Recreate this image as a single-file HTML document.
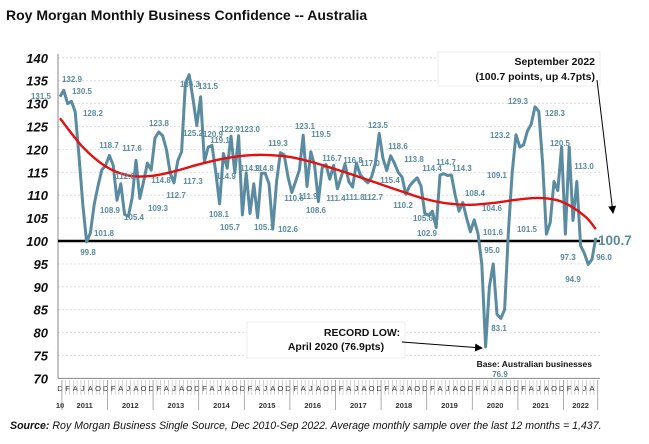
<!DOCTYPE html>
<html><head><meta charset="utf-8">
<style>
html,body{margin:0;padding:0;background:#fff;}
body{width:649px;height:444px;overflow:hidden;font-family:"Liberation Sans",sans-serif;position:relative;}
#title{position:absolute;left:6px;top:7px;font-size:14px;font-weight:bold;color:#111;}
#source{position:absolute;left:10px;top:420px;font-size:10.6px;font-style:italic;color:#111;white-space:nowrap;}
svg{position:absolute;left:0;top:0;}
</style></head>
<body>
<div id="title">Roy Morgan Monthly Business Confidence -- Australia</div>
<svg id="chart" width="649" height="444"></svg>
<div id="source"><b>Source:</b> Roy Morgan Business Single Source, Dec 2010-Sep 2022. Average monthly sample over the last 12 months = 1,437.</div>
<script>
const values = [131.5,132.9,130.0,130.5,128.2,118.5,108,99.8,101.8,108,112,115.5,116.5,118.7,116.5,108.9,112.5,105.8,105.4,109.5,117.6,109.3,113,117,115.5,122.5,123.8,123,120,114.8,112.7,117.5,119.5,134.5,136.3,131,125.2,131.5,117.3,120.5,120.9,115,108.1,119.1,115.9,122.9,114.9,123.0,105.7,114.9,106,112.5,105.1,114.8,114.8,112.5,102.6,113,119.3,118.8,114,110.6,113,115.5,123.1,111.9,119.5,116.5,108.6,116,116.7,113.5,116.5,111.4,114,116.8,113,111.8,117.0,114.5,113.5,112.7,114,117,123.5,118,115.4,118.6,117,115,114,110.2,112,113,113.8,112,106,105.6,106.5,102.9,114.4,114.7,114.3,114.4,110,106.5,108.4,105,102,104.6,101.6,95.0,76.9,90,95,84,83.1,85,102,115,123.2,120.5,121,124,125.5,129.3,128.3,117,101.5,104,113,111,120.5,101.5,120.5,104.5,113.0,99,97.3,94.9,96.0,100.7];
const trendIdx = [0,6,12,18,24,30,36,42,48,54,60,66,72,78,84,90,96,102,108,114,120,126,132,138,141];
const trendVals = [126.8,120.5,116.3,114.3,114.2,115.2,116.6,117.8,118.6,118.8,118.4,117.3,115.8,114.2,112.5,110.8,109.2,108.2,107.9,108.3,109.0,109.4,108.6,105.5,102.6];
const yTicks = [70,75,80,85,90,95,100,105,110,115,120,125,130,135,140];
const monthLetters = ["D","F","A","J","A","O"];
const years = ["10","2011","2012","2013","2014","2015","2016","2017","2018","2019","2020","2021","2022"];
const pointLabels = [["131.5",41,96],["132.9",72,79],["130.5",82,91],["128.2",93,113],["99.8",88,252],["101.8",104,233],["118.7",109,145],["108.9",110,210],["117.6",132,148],["112.0",125,176],["105.4",134,217],["109.3",158,208],["123.8",159,123],["114.8",161,180],["112.7",176,195],["136.3",190,84],["131.5",208,86],["125.2",193,133],["117.3",193,181],["120.9",213,134],["119.1",220,140],["114.9",226,176],["108.1",219,214],["122.9",230,129],["123.0",250,129],["105.7",230,227],["114.9",250,168],["114.8",264,168],["105.1",264,227],["119.3",278,143],["102.6",288,229],["110.6",294,198],["123.1",305,126],["111.9",308,196],["119.5",321,134],["108.6",316,210],["116.7",332,158],["111.4",336,198],["116.8",353,160],["111.8",355,197],["117.0",370,163],["112.7",373,197],["123.5",378,125],["118.6",398,146],["115.4",390,180],["113.8",414,159],["110.2",403,205],["105.6",423,218],["102.9",427,233],["114.4",432,168],["114.7",446,162],["114.3",462,168],["108.4",475,193],["104.6",492,208],["101.6",493,232],["95.0",492,250],["109.1",497,175],["123.2",500,135],["129.3",518,101],["128.3",555,113],["120.5",560,143],["113.0",584,166],["101.5",527,229],["97.3",568,257],["96.0",604,257],["83.1",499,328],["76.9",500,374],["94.9",573,279]];

const NS="http://www.w3.org/2000/svg";
const svg=document.getElementById('chart');
const X0=60, DX=3.8, Y100=241, PPU=4.58;
const xs=i=>X0+i*DX;
const ys=v=>Y100-(v-100)*PPU;
function mk(tag,attrs,parent){const e=document.createElementNS(NS,tag);for(const k in attrs)e.setAttribute(k,attrs[k]);(parent||svg).appendChild(e);return e;}

yTicks.forEach(t=>{
  const g=mk('line',{x1:58,x2:600,y1:ys(t),y2:ys(t),stroke:'#d8d8d8','stroke-dasharray':'2,2','stroke-width':0.8});
  
  
  const tx=mk('text',{x:48,y:ys(t)+5,'text-anchor':'end','font-size':13,'font-weight':'bold','font-style':'italic',fill:'#111'});
  tx.textContent=t;
  
  
});
const ya=mk('line',{x1:58,x2:58,y1:ys(140)-4,y2:ys(70),stroke:'#888','stroke-width':1});


const xa=mk('line',{x1:58,x2:600,y1:ys(70),y2:ys(70),stroke:'#888','stroke-width':1});



const nMonths=values.length;
for(let i=0;i<nMonths;i++){
  const x=xs(i);
  const t=mk('line',{x1:x+DX/2,x2:x+DX/2,y1:380,y2:395,stroke:'#aaa','stroke-width':0.5});
  
  
  if(i%2===0){
    const l=mk('text',{x:x,y:391,'text-anchor':'middle','font-size':7.5,fill:'#333'});
    l.textContent=monthLetters[(i/2)%6];
    
    
  }
}
years.forEach((y,k)=>{
  const start=k===0?0:1+(k-1)*12;
  const end=k===0?0:Math.min(start+11,nMonths-1);
  const cx=(xs(start)+xs(end))/2;
  const tx=mk('text',{x:cx,y:408,'text-anchor':'middle','font-size':7.5,'font-weight':'bold',fill:'#333'});
  tx.textContent=y;
  
  
  const dl=mk('line',{x1:xs(end)+DX/2,x2:xs(end)+DX/2,y1:380,y2:410,stroke:'#999','stroke-width':0.8});
  
  
});

const bl=mk('line',{x1:58,x2:600,y1:ys(100),y2:ys(100),stroke:'#000','stroke-width':2.4});



const pts=values.map((v,i)=>xs(i).toFixed(1)+','+ys(v).toFixed(1)).join(' ');
const sl=mk('polyline',{points:pts,fill:'none',stroke:'#5a8ba0','stroke-width':3,'stroke-linejoin':'round'});



const tp=trendIdx.map((ix,k)=>[xs(ix),ys(trendVals[k])]);
let d='M'+tp[0][0]+','+tp[0][1];
for(let k=0;k<tp.length-1;k++){
  const p0=tp[Math.max(0,k-1)],p1=tp[k],p2=tp[k+1],p3=tp[Math.min(tp.length-1,k+2)];
  const c1=[p1[0]+(p2[0]-p0[0])/6,p1[1]+(p2[1]-p0[1])/6];
  const c2=[p2[0]-(p3[0]-p1[0])/6,p2[1]-(p3[1]-p1[1])/6];
  d+=` C${c1[0]},${c1[1]} ${c2[0]},${c2[1]} ${p2[0]},${p2[1]}`;
}
const tl=mk('path',{d:d,fill:'none',stroke:'#e41010','stroke-width':2.4});



pointLabels.forEach(p=>{
  const tx=mk('text',{x:p[1],y:p[2]+3,'text-anchor':'middle','font-size':8,'font-weight':'bold',fill:'#5a8ba0'});
  tx.textContent=p[0];
  
  
});

const lv=mk('text',{x:598,y:245,'font-size':13.5,'font-weight':'bold',fill:'#5a8ba0'});
lv.textContent='100.7';



const defs=mk('defs',{});
const mkr=mk('marker',{id:'ah',markerWidth:8,markerHeight:8,refX:7,refY:4,orient:'auto'},defs);
mk('path',{d:'M0,0 L8,4 L0,8 Z',fill:'#000'},mkr);

const b1=mk('rect',{x:438,y:52,width:162,height:34,fill:'#fff',stroke:'#e4e8ef','stroke-width':0.8});


const t1=mk('text',{x:595,y:65,'text-anchor':'end','font-size':10.5,'font-weight':'bold',fill:'#111'});
t1.textContent='September 2022';


const t2=mk('text',{x:595,y:80,'text-anchor':'end','font-size':10.5,'font-weight':'bold',fill:'#111'});
t2.textContent='(100.7 points, up 4.7pts)';


const a1=mk('line',{x1:597,y1:80,x2:613,y2:213,stroke:'#000','stroke-width':1,'marker-end':'url(#ah)'});



const b2=mk('rect',{x:247,y:322,width:158,height:36,fill:'#fff',stroke:'#e4e8ef','stroke-width':0.8});


const t3=mk('text',{x:362,y:336,'text-anchor':'middle','font-size':10.5,'font-weight':'bold',fill:'#111'});
t3.textContent='RECORD LOW:';


const t4=mk('text',{x:336,y:350,'text-anchor':'middle','font-size':10.5,'font-weight':'bold',fill:'#111'});
t4.textContent='April 2020 (76.9pts)';


const a2=mk('line',{x1:402,y1:342,x2:482,y2:348,stroke:'#000','stroke-width':1,'marker-end':'url(#ah)'});



const base=mk('text',{x:592,y:367,'text-anchor':'end','font-size':8.5,'font-weight':'bold',fill:'#111'});
base.textContent='Base: Australian businesses';


</script>
</body></html>
